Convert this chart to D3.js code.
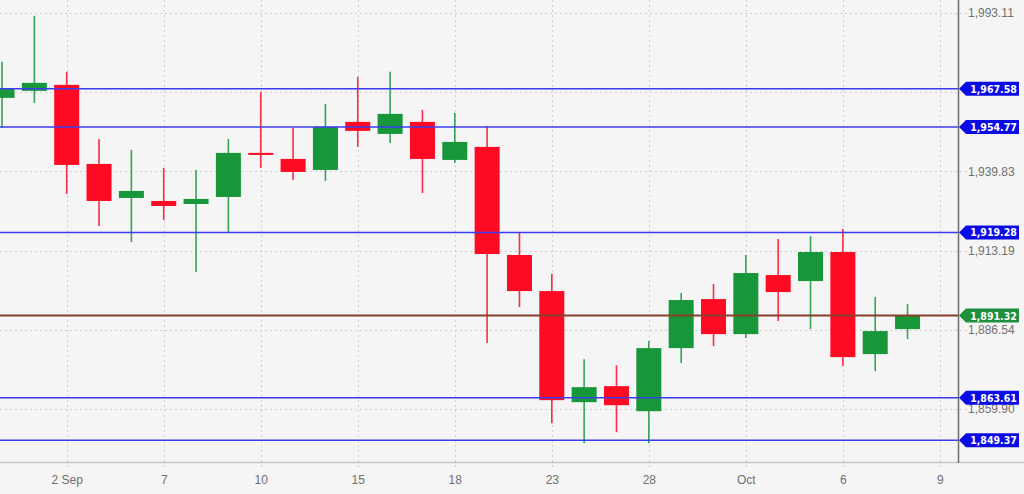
<!DOCTYPE html>
<html><head><meta charset="utf-8">
<script src="https://cdn.jsdelivr.net/npm/d3@7"></script>
<style>
html,body{margin:0;padding:0;background:#f5f5f5;}
svg{display:block;}
</style></head>
<body>
<svg id="chart" width="1024" height="494"></svg>
<script>
// candle index 0 = 2 Sep
const candleIndex = [-2,-1,0,1,2,3,4,5,6,7,8,9,10,11,12,13,14,15,16,17,18,19,20,21,22,23,24,25,26];
const opens  = [1964.55,1966.91,1968.93,1942.32,1930.87,1929.86,1928.85,1931.21,1946.03,1944.00,1940.30,1956.47,1952.42,1956.47,1943.67,1948.05,1911.67,1899.55,1862.16,1867.55,1859.13,1880.35,1896.85,1885.06,1904.94,1902.91,1912.68,1878.33,1886.75];
const highs  = [1976.67,1992.17,1973.31,1950.74,1947.04,1940.97,1940.30,1950.74,1966.57,1954.45,1962.53,1971.62,1973.31,1960.51,1959.50,1955.12,1919.42,1905.27,1876.64,1874.62,1882.71,1898.87,1901.90,1911.67,1917.06,1918.07,1920.43,1897.53,1895.17];
const lows   = [1954.45,1962.87,1932.22,1921.44,1916.05,1923.46,1905.95,1919.42,1940.97,1936.93,1936.60,1948.05,1949.39,1932.55,1942.66,1882.03,1894.16,1855.09,1848.35,1852.06,1848.35,1875.30,1881.02,1883.72,1889.44,1886.75,1874.29,1872.60,1883.38];
const closes = [1967.58,1969.60,1941.98,1929.86,1933.23,1928.17,1930.53,1946.03,1945.35,1939.63,1954.78,1953.44,1959.16,1944.00,1949.73,1912.01,1899.55,1862.84,1867.21,1861.15,1880.35,1896.52,1885.06,1905.61,1899.21,1912.68,1877.32,1886.08,1891.32];

const xTickIndex  = [0,3,6,9,12,15,18,21,24,27];
const xTickLabels = ["2 Sep","7","10","15","18","23","28","Oct","6","9"];

const yGridValues  = [1993.11,1966.47,1939.83,1913.19,1886.54,1859.90];
const yLabelValues = [1993.11,1939.83,1913.19,1886.54,1859.90];

const blueLevels = [1967.58,1954.77,1919.28,1863.61,1849.37];
const lastPrice = 1891.32;

const W = 1024, H = 494;
const plotRight = 958, plotBottom = 462;
const svg = d3.select("#chart");

const x = d3.scaleLinear().domain([-2.0625, 27.56]).range([0, plotRight]);
const y = d3.scaleLinear().domain([1842.03, 1997.48]).range([plotBottom, 0]);

const fmt = d3.format(",.2f");
const green = "#17963a", red = "#ff0a23";

svg.append("rect").attr("width", W).attr("height", H).attr("fill", "#f5f5f5");

svg.append("defs").append("clipPath").attr("id","clip")
  .append("rect").attr("x",0).attr("y",0).attr("width",plotRight).attr("height",plotBottom);

// grid
const grid = svg.append("g");
grid.selectAll(".hg").data(yGridValues).enter().append("line")
  .attr("x1",0).attr("x2",plotRight+10)
  .attr("y1",d=>Math.round(y(d))+0.5).attr("y2",d=>Math.round(y(d))+0.5)
  .attr("stroke","#cfcfcf").attr("stroke-width",1).attr("stroke-dasharray","2,3");
grid.selectAll(".vg").data(xTickIndex).enter().append("line")
  .attr("x1",d=>Math.round(x(d))+0.5).attr("x2",d=>Math.round(x(d))+0.5)
  .attr("y1",0).attr("y2",plotBottom+8)
  .attr("stroke","#cfcfcf").attr("stroke-width",1).attr("stroke-dasharray","2,3");

// candles
const candles = d3.range(candleIndex.length).map(i=>({i:candleIndex[i],o:opens[i],h:highs[i],l:lows[i],c:closes[i]}));
const cg = svg.append("g").attr("clip-path","url(#clip)");
const bw = 25;
cg.selectAll(".wick").data(candles).enter().append("line")
  .attr("x1",d=>x(d.i)).attr("x2",d=>x(d.i))
  .attr("y1",d=>y(d.h)).attr("y2",d=>y(d.l))
  .attr("stroke",d=>d.c>=d.o?green:red).attr("stroke-width",1.6).attr("opacity",0.85);
cg.selectAll(".body").data(candles).enter().append("rect")
  .attr("x",d=>x(d.i)-bw/2).attr("width",bw)
  .attr("y",d=>y(Math.max(d.o,d.c)))
  .attr("height",d=>Math.max(2,Math.abs(y(d.o)-y(d.c))))
  .attr("fill",d=>d.c>=d.o?green:red);

// level lines
const lv = svg.append("g");
lv.selectAll(".bl").data(blueLevels).enter().append("line")
  .attr("x1",0).attr("x2",plotRight)
  .attr("y1",d=>y(d)).attr("y2",d=>y(d))
  .attr("stroke","#3b3bf0").attr("stroke-width",1.5);
lv.append("line").attr("x1",0).attr("x2",plotRight)
  .attr("y1",y(lastPrice)).attr("y2",y(lastPrice))
  .attr("stroke","#8a3f2c").attr("stroke-width",2.2);

// axes lines
svg.append("line").attr("x1",0).attr("x2",W).attr("y1",plotBottom+0.5).attr("y2",plotBottom+0.5)
  .attr("stroke","#c8c8c8").attr("stroke-width",1.5);
svg.append("line").attr("x1",plotRight+0.5).attr("x2",plotRight+0.5).attr("y1",0).attr("y2",plotBottom+1)
  .attr("stroke","#6e6e6e").attr("stroke-width",1.5);

// y axis labels
const yAxis = d3.axisRight(y).tickValues(yLabelValues).tickFormat(fmt).tickSize(0).tickPadding(10);
const ya = svg.append("g").attr("transform",`translate(${plotRight},0)`).call(yAxis);
ya.select(".domain").remove();
ya.selectAll("text").attr("fill","#707070").style("font-family","'Liberation Sans', Arial, sans-serif").style("font-size","12px");

// x axis labels
const xAxis = d3.axisBottom(x).tickValues(xTickIndex).tickFormat((d,k)=>xTickLabels[k]).tickSize(0).tickPadding(13);
const xa = svg.append("g").attr("transform",`translate(0,${plotBottom})`).call(xAxis);
xa.select(".domain").remove();
xa.selectAll("text").attr("fill","#707070").style("font-family","'Liberation Sans', Arial, sans-serif").style("font-size","12px");

// flags
function flag(v, color){
  const yy = y(v);
  const g = svg.append("g").attr("transform",`translate(${plotRight},${yy})`);
  const x0 = 5, x1 = 61, h = 7;
  g.append("path").attr("d",`M1,0 L${x0+3},${-h} L${x1},${-h} L${x1},${h} L${x0+3},${h} Z`).attr("fill",color);
  g.append("text").attr("x",(x0+3+x1)/2+1).attr("y",4).attr("text-anchor","middle")
    .attr("fill","#fff").style("font-family","'DejaVu Sans Condensed', 'Liberation Sans Narrow', sans-serif")
    .style("font-weight","bold").style("font-size","10.5px").text(fmt(v));
}
blueLevels.forEach(v=>flag(v,"#0a0ae6"));
flag(lastPrice,"#1d8f3d");
</script>
</body></html>
